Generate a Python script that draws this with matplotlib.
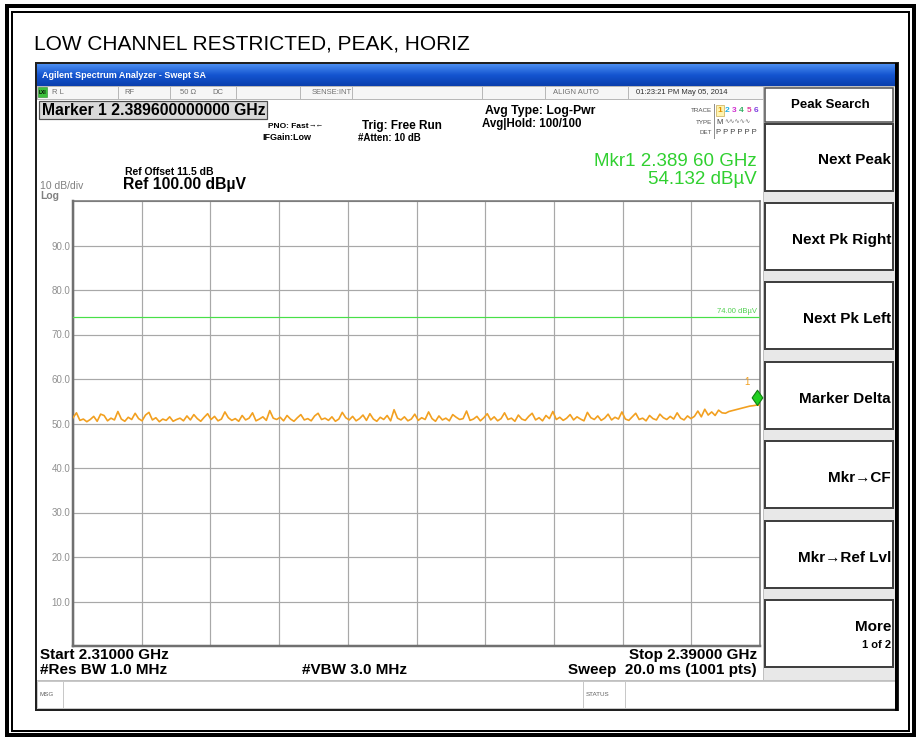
import numpy as np
import matplotlib.pyplot as plt
from matplotlib.colors import LinearSegmentedColormap
from matplotlib.patches import Rectangle
from matplotlib.path import Path

plt.rcParams["font.family"] = ["Liberation Sans", "DejaVu Sans"]

title = "LOW CHANNEL RESTRICTED, PEAK, HORIZ"
start_ghz = 2.31
stop_ghz = 2.39
ref_level = 100.0
limit_dbuv = 74.0
marker_ghz = 2.3896
marker_dbuv = 54.132
y_labels = [10, 20, 30, 40, 50, 60, 70, 80, 90]
softkeys = ["Next Peak", "Next Pk Right", "Next Pk Left", "Marker Delta",
            "Mkr\u2192CF", "Mkr\u2192Ref Lvl", "More"]

# trace 1 (peak hold), evenly spaced over the sweep
level = [
    51.3, 52.4, 50.7, 51.0, 50.4, 50.9, 51.6, 50.5, 52.1, 51.8, 50.6, 51.2, 50.8, 52.7, 51.0, 50.5, 51.4, 50.9, 52.3, 51.1,
    50.6, 51.9, 52.5, 50.8, 51.3, 50.4, 51.0, 50.7, 51.5, 50.5, 50.9, 51.2, 50.6, 51.7, 50.8, 52.0, 51.1, 50.5, 51.4, 52.2,
    50.9, 51.6, 50.6, 51.0, 52.6, 51.3, 50.7, 51.1, 50.5, 51.8, 50.8, 51.2, 52.4, 50.6, 51.0, 51.5, 50.7, 52.9, 51.2, 50.9,
    51.4, 50.6, 51.8, 51.0, 50.5, 51.3, 52.0, 50.8, 51.1, 50.6, 51.7, 52.3, 50.9, 51.2, 50.7, 51.5, 50.5, 51.0, 52.5, 51.3,
    50.8, 51.6, 50.6, 51.1, 51.9, 50.7, 52.2, 51.0, 50.5, 51.4, 50.9, 51.8, 50.6, 53.1, 51.2, 50.8, 51.5, 50.6, 51.0, 52.1,
    50.7, 51.3, 50.9, 52.6, 51.1, 50.5, 51.7, 50.8, 51.2, 50.6, 52.0, 51.4, 50.9, 51.1, 52.8, 50.7, 51.0, 51.6, 50.6, 51.3,
    52.2, 50.8, 51.5, 50.6, 51.1, 52.4, 50.9, 51.2, 50.5, 51.9, 51.0, 50.7, 51.6, 52.3, 50.8, 51.3, 50.6, 51.8, 51.1, 52.7,
    50.9, 51.4, 50.7, 51.2, 52.0, 50.8, 51.5, 51.0, 50.6, 52.5, 51.3, 50.9, 51.7, 50.7, 51.2, 52.1, 50.8, 51.4, 51.0, 52.6,
    51.0, 50.7, 51.5, 52.3, 50.9, 51.2, 50.6, 51.8, 51.1, 50.8, 52.1, 51.3, 50.9, 51.6, 51.0, 52.4, 51.2, 50.8, 51.7, 51.1,
    51.6, 52.8, 51.5, 53.2, 51.9, 52.6, 51.8, 53.0, 52.4, 52.3, 52.7, 52.9, 53.1, 53.3, 53.5, 53.7, 53.9, 54.0, 54.13, 54.1,
]
freq = np.linspace(start_ghz, stop_ghz, len(level))

W, H = 920, 738
px = 0.72  # one pixel in points at dpi 100

fig = plt.figure(figsize=(W / 100, H / 100), dpi=100)
fig.patch.set_facecolor("white")

bg = fig.add_axes([0, 0, 1, 1])
bg.axis("off")


def box(x, y, w, h, fc="none", ec="black", lw=1.0, z=1):
    bg.add_patch(Rectangle((x, y), w, h, facecolor=fc, edgecolor=ec, linewidth=lw * px, zorder=z))


def txt(x, y, s, size=8, color="black", weight="bold", ha="left", **kw):
    bg.text(x, y, s, fontsize=size, color=color, fontweight=weight, ha=ha, va="center", **kw)


# title bar gradient of the analyzer window
grad = np.linspace(0, 1, 30).reshape(-1, 1)
bar_cmap = LinearSegmentedColormap.from_list("bar", ["#4a8cf0", "#1455d0", "#0a3fae"])
bg.imshow(grad, extent=(37, 897, 86, 64), cmap=bar_cmap, aspect="auto", zorder=1)
bg.set_xlim(0, W)
bg.set_ylim(H, 0)

# page frame
box(7, 6, 907, 729, lw=4)
box(12.5, 12, 896.5, 718.5, lw=2)
txt(34, 44, title, size=15, weight="normal")

# analyzer window
box(36, 63, 862, 647, fc="white", ec="#202020", lw=2, z=0.5)
bg.plot([896.5, 896.5], [64, 709], color="black", lw=3 * px, zorder=3)
txt(42, 75, "Agilent Spectrum Analyzer - Swept SA", size=6.5, color="white")

# status row
box(37, 86, 726, 13, fc="#f6f6f6", ec="#b8b8b8", lw=1)
for xd in [118, 170, 236, 300, 352, 482, 545, 628]:
    bg.plot([xd, xd], [86, 99], color="#b8b8b8", lw=px, zorder=2)
box(38, 87, 9, 10, fc="#3cc03c", ec="#208020", lw=0.5, z=2)
txt(42.5, 92.5, "LXI", size=3.5, ha="center")
for x, s in [(52, "R L"), (124, "RF"), (180, "50 \u03a9"), (212, "DC"),
             (312, "SENSE:INT"), (553, "ALIGN AUTO")]:
    txt(x, 92.5, s, size=5.5, color="#707070", weight="normal")
txt(636, 92.5, "01:23:21 PM May 05, 2014", size=5.5, color="#303030", weight="normal")

# header
box(39, 101, 228, 18, fc="#d9d9d9", ec="#505050", lw=1.2)
txt(42, 110.5, "Marker 1 2.389600000000 GHz", size=11.3)
txt(268, 126, "PNO: Fast", size=6)
txt(309, 126, "\u2192\u2190", size=5.5, weight="normal")
txt(262, 138, "IFGain:Low", size=6.5)
txt(362, 125.5, "Trig: Free Run", size=8.5)
txt(358, 138, "#Atten: 10 dB", size=7)
txt(485, 111, "Avg Type: Log-Pwr", size=8.8)
txt(482, 123.5, "Avg|Hold: 100/100", size=8.3)

txt(712, 111, "TRACE", size=4.5, color="#505050", weight="normal", ha="right")
txt(712, 122, "TYPE", size=4.5, color="#505050", weight="normal", ha="right")
txt(712, 133, "DET", size=4.5, color="#505050", weight="normal", ha="right")
bg.plot([714, 714], [104, 138], color="#909090", lw=px, zorder=2)
box(716, 105, 8, 11, fc="#fff4b0", ec="#c0a040", lw=0.6, z=2)
trace_cols = ["#e09000", "#20b0e0", "#d030d0", "#30b060", "#e040a0", "#8040e0"]
for i, c in enumerate(trace_cols):
    txt(720 + 7.2 * i, 111, str(i + 1), size=6, color=c, ha="center")
txt(716, 122, "M", size=5.5, color="#404040", weight="normal")
txt(724, 122, "\u223f\u223f\u223f\u223f\u223f", size=4.5, color="#707070", weight="normal",
    family=["DejaVu Sans"])
txt(716, 133, "P P P P P P", size=5.5, color="#404040", weight="normal")

txt(125, 172, "Ref Offset 11.5 dB", size=7.5)
txt(40, 186, "10 dB/div", size=7.5, color="#808080", weight="normal")
txt(40, 196, "Log", size=7.5, color="#808080")
txt(123, 184, "Ref 100.00 dB\u00b5V", size=11.3)
txt(757, 162, "Mkr1 2.389 60 GHz", size=13.5, color="#30d030", weight="normal", ha="right")
txt(757, 180, "54.132 dB\u00b5V", size=13.5, color="#30d030", weight="normal", ha="right")

# footer
txt(40, 655, "Start 2.31000 GHz", size=11)
txt(40, 670, "#Res BW 1.0 MHz", size=11)
txt(302, 670, "#VBW 3.0 MHz", size=11)
txt(757, 655, "Stop 2.39000 GHz", size=11, ha="right")
txt(757, 670, "Sweep  20.0 ms (1001 pts)", size=11, ha="right")
bg.plot([37, 897], [680, 680], color="#c0c0c0", lw=px, zorder=2)
box(37, 681, 859, 27, fc="white", ec="#c8c8c8", lw=1)
for xd in [63, 583, 625]:
    bg.plot([xd, xd], [681, 708], color="#c8c8c8", lw=px, zorder=2)
txt(40, 695, "MSG", size=4.5, color="#606060", weight="normal")
txt(586, 695, "STATUS", size=4.5, color="#606060", weight="normal")

# softkey panel
box(763, 86, 133, 594, fc="#e8e8e8", ec="#c0c0c0", lw=1, z=0.8)
box(765, 88, 128, 34, fc="white", ec="#505050", lw=1.5)
txt(830, 105, "Peak Search", size=9.5, ha="center")
for i, label in enumerate(softkeys):
    top = 123.5 + i * 79.4
    box(765, top, 128, 67, fc="white", ec="#404040", lw=2)
    if label == "More":
        txt(891, top + 27, label, size=11, ha="right")
        txt(891, top + 45, "1 of 2", size=8, ha="right")
    else:
        txt(891, top + 37, label, size=11, ha="right")

# trace area
L, R, T, B = 73, 760, 201, 646
ax = fig.add_axes([L / W, 1 - B / H, (R - L) / W, (B - T) / H])
ax.set_xlim(start_ghz, stop_ghz)
ax.set_ylim(ref_level - 100, ref_level)
ax.set_xticks(np.linspace(start_ghz, stop_ghz, 11))
ax.set_yticks(np.arange(0, 101, 10))
ax.set_yticklabels([f"{v:.1f}" if v in y_labels else "" for v in range(0, 101, 10)],
                   fontsize=7, color="#909090")
ax.set_xticklabels([])
ax.tick_params(length=0, pad=2)
ax.grid(True, color="#a8a8a8", lw=1.2 * px)
for side, sp in ax.spines.items():
    sp.set_color("#707070")
    sp.set_linewidth(1.5 * px)
ax.spines["left"].set_linewidth(2.5 * px)
ax.spines["bottom"].set_linewidth(2.5 * px)

ax.axhline(limit_dbuv, color="#48e048", lw=1.2 * px, zorder=3)
ax.text(stop_ghz - 0.0003, limit_dbuv + 0.4, "74.00 dB\u00b5V", fontsize=5.5, color="#50d050",
        ha="right", va="bottom")
ax.plot(freq, level, color="#f2a020", lw=1.2, zorder=4)

tip = Path([(0, 0), (0.7, 1), (0, 2), (-0.7, 1), (0, 0)],
           [Path.MOVETO, Path.LINETO, Path.LINETO, Path.LINETO, Path.CLOSEPOLY])
ax.plot([marker_ghz], [marker_dbuv], marker=tip, markersize=22, color="#20d020",
        markeredgecolor="#108010", markeredgewidth=0.8, zorder=5, clip_on=False)
ax.text(marker_ghz - 0.0011, marker_dbuv + 4.6, "1", fontsize=7, color="#f2a020", ha="center")

fig.savefig("out.png", dpi=100)
